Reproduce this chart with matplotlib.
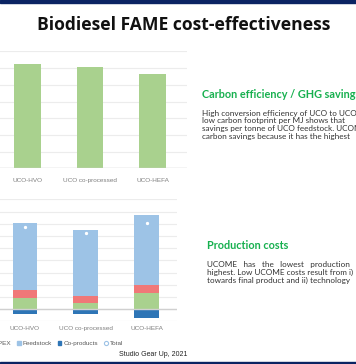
import matplotlib
matplotlib.use("Agg")
import matplotlib.pyplot as plt
from matplotlib.patches import Rectangle
from matplotlib.lines import Line2D
import numpy as np

# ---------------- data ----------------
categories = ["UCO-HVO", "UCO co-processed", "UCO-HEFA"]
carbon_eff = [6.25, 6.08, 5.65]

capex = [0.95, 0.49, 1.28]
opex = [0.61, 0.57, 0.66]
feedstock = [5.46, 5.46, 5.77]
coproducts = [-0.41, -0.41, -0.69]
total = [6.69, 6.20, 7.07]

legend_labels = ["CAPEX", "OPEX", "Feedstock", "Co-products", "Total"]

title = "Biodiesel FAME cost-effectiveness"
h1 = "Carbon efficiency / GHG savings"
body1 = ["High conversion efficiency of UCO to UCOME",
         "low carbon footprint per MJ shows that",
         "savings per tonne of UCO feedstock. UCOME",
         "carbon savings because it has the highest"]
h2 = "Production costs"
body2 = ["UCOME   has   the   lowest   production   cost",
         "highest. Low UCOME costs result from i)",
         "towards final product and ii) technology"]
source = "Studio Gear Up, 2021"

# ---------------- colours ----------------
c_green = "#a9d18e"
c_red = "#f07878"
c_lblue = "#9dc3e6"
c_dblue = "#2e75b6"
c_grid = "#ececec"
c_lab = "#7f7f7f"
navy = "#0b2463"

W, H = 356, 364
fig = plt.figure(figsize=(W / 100, H / 100), dpi=100)
fig.patch.set_facecolor("white")


def px(x0, y0, x1, y1):
    """pixel box (top-left origin) -> figure fraction rect"""
    return [x0 / W, 1 - y1 / H, (x1 - x0) / W, (y1 - y0) / H]


# navy bars top/bottom
fig.patches.append(Rectangle((0, 1 - 2.5 / H), 1, 2.5 / H, transform=fig.transFigure,
                             color=navy, zorder=5))
fig.patches.append(Rectangle((0, 0), 1, 2.5 / H, transform=fig.transFigure,
                             color=navy, zorder=5))

fig.text(184 / W, 1 - 25 / H, title, ha="center", va="center", fontsize=12.6,
         fontweight="bold", family="Open Sans", color="#111111")

# ---------------- top chart ----------------
ax1 = fig.add_axes(px(-3.8, 51.4, 187, 168.3))
x = np.arange(len(categories))
ax1.bar(x, carbon_eff, width=0.42, color=c_green, zorder=3)
ax1.set_xlim(-0.5, 2.55)
ax1.set_ylim(0, 7)
ax1.set_yticks(np.arange(0, 8, 1))
ax1.yaxis.grid(True, color=c_grid, lw=0.8, zorder=0)
ax1.tick_params(axis="y", length=0, labelleft=False)
ax1.tick_params(axis="x", length=0, pad=7, labelsize=4.6, labelcolor=c_lab)
ax1.set_xticks(x)
ax1.set_xticklabels(categories, family="Liberation Sans")
for s in ax1.spines.values():
    s.set_visible(False)
ax1.axhline(0, color="#d0d0d0", lw=1.0, zorder=4)
ax1.set_facecolor("none")

# ---------------- bottom chart ----------------
ax2 = fig.add_axes(px(-5.7, 199.3, 177, 321.3))
w = 0.4
b1 = np.array(capex)
b2 = b1 + np.array(opex)
ax2.bar(x, capex, width=w, color=c_green, zorder=3)
ax2.bar(x, opex, width=w, bottom=b1, color=c_red, zorder=3)
ax2.bar(x, feedstock, width=w, bottom=b2, color=c_lblue, zorder=3)
ax2.bar(x, coproducts, width=w, color=c_dblue, zorder=3)
ax2.scatter(x, total, s=11, facecolor="white", edgecolor=c_lblue, lw=0.9, zorder=5)
ax2.set_xlim(-0.5, 2.5)
ax2.set_ylim(-1, 9)
ax2.set_yticks(np.arange(-1, 10, 1))
ax2.yaxis.grid(True, color=c_grid, lw=0.8, zorder=0)
ax2.tick_params(axis="y", length=0, labelleft=False)
ax2.tick_params(axis="x", length=0, pad=3.5, labelsize=4.6, labelcolor=c_lab)
ax2.set_xticks(x)
ax2.set_xticklabels(categories, family="Liberation Sans")
for s in ax2.spines.values():
    s.set_visible(False)
ax2.axhline(0, color="#d0d0d0", lw=1.0, zorder=4)
ax2.set_facecolor("none")

handles = [Rectangle((0, 0), 1, 1, color=c_green),
           Rectangle((0, 0), 1, 1, color=c_red),
           Rectangle((0, 0), 1, 1, color=c_lblue),
           Rectangle((0, 0), 1, 1, color=c_dblue),
           Line2D([], [], ls="none", marker="o", ms=3, mfc="white", mec=c_lblue, mew=0.8)]
leg = fig.legend(handles, legend_labels, ncol=5, loc="center right",
                 bbox_to_anchor=(123 / W, 1 - 343.5 / H), frameon=False,
                 prop={"family": "Liberation Sans", "size": 4.6},
                 handlelength=0.55, handleheight=0.55, handletextpad=0.35,
                 columnspacing=0.9, borderpad=0, borderaxespad=0)
for t in leg.get_texts():
    t.set_color("#595959")

fig.text(153 / W, 1 - 355 / H, source, ha="center", va="center", fontsize=5.0,
         family="Liberation Sans", color="#222222")

# ---------------- right texts ----------------
green_h = "#17b04f"
txtc = "#333333"
fig.text(201.7 / W, 1 - 94 / H, h1, ha="left", va="center", fontsize=7.8,
         fontweight="bold", family="Lato", color=green_h)
for i, line in enumerate(body1):
    fig.text(201.7 / W, 1 - (113.3 + 7.6 * i) / H, line, ha="left", va="center",
             fontsize=5.85, family="Lato", color=txtc)

fig.text(206.7 / W, 1 - 245.7 / H, h2, ha="left", va="center", fontsize=7.8,
         fontweight="bold", family="Lato", color=green_h)
for i, line in enumerate(body2):
    fig.text(206.7 / W, 1 - (265 + 7.6 * i) / H, line, ha="left", va="center",
             fontsize=5.85, family="Lato", color=txtc)

fig.savefig("out.png", dpi=100, facecolor="white")
